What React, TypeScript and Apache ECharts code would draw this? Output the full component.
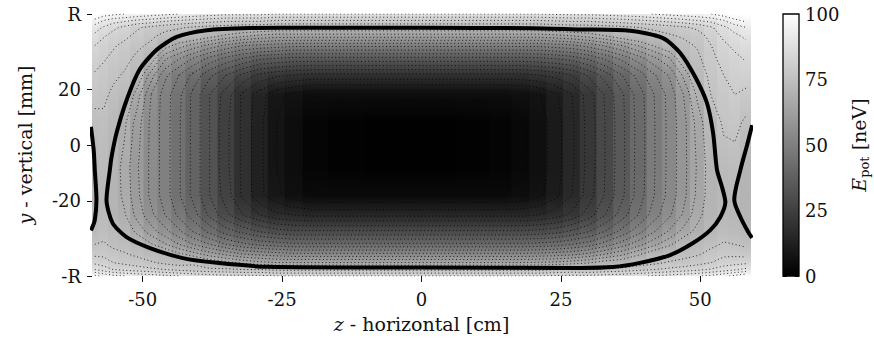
import React, { useEffect, useRef } from "react";
import * as echarts from "echarts";

const FONT = "DejaVu Serif";
const R_MM = 46.8;
const Z_MIN = -59.1;
const Z_MAX = 59.1;
const X_TICKS = [-50, -25, 0, 25, 50];
const Y_TICK_VALUES = [-R_MM, -20, 0, 20, R_MM];
const Y_TICK_LABELS = ["-R", "-20", "0", "20", "R"];
const CBAR_MIN = 0;
const CBAR_MAX = 100;
// thin dotted contour levels (neV); the 72 neV level is the thick line
const DOTTED_LEVELS = [4, 8, 12, 16, 20, 24, 28, 32, 36, 40, 44, 48, 52, 56, 60, 64, 68, 76, 80, 84, 88, 92, 96];

// vertical sample heights (mm), top to bottom
const Y_ROWS = [46.8, 44.5, 42, 39, 35.5, 31, 25, 18, 8, -8, -18, -25, -31, -35.5, -39, -42, -44.5, -46.8];
// column centres (cm)
const Z_COLS = [-58.6, -57, -55.3, -53.3, -51, -48.5, -46, -43.5, -41, -38, -35, -32, -29, -26, -23, -19.5, -14, -6, 3, 10, 14.5, 18, 21, 24, 27, 30, 33, 36, 39, 42, 44.5, 47, 49.5, 52, 54.2, 56.2, 58.2];
// E_pot (neV) read per column, values at Y_ROWS
const E_POT = [
  [100, 95, 90, 87, 84, 82, 79.5, 77.5, 74.5, 72, 71.5, 71.8, 73.5, 76, 79, 83, 88, 97],
  [98, 92, 87.5, 84.5, 82, 80.5, 78.5, 77, 75, 73.5, 72.7, 73, 74.5, 76.5, 79, 82, 86, 95],
  [97, 90, 85, 82.5, 80.5, 79, 77, 75, 73, 70.5, 70.5, 71, 73, 75, 77.5, 80, 84, 93],
  [96, 89, 83, 81, 79, 77.5, 75.5, 73.5, 69, 66.5, 67, 68.5, 71.5, 74, 76.5, 79, 83, 92],
  [95, 87.5, 80.5, 79, 77, 75, 72, 66, 62, 60.5, 61, 62.5, 67, 72, 75, 78, 82, 91],
  [94, 86.5, 79, 77, 75, 71, 62, 56, 55, 55, 55, 57, 62, 68.5, 73.5, 76.5, 81, 90],
  [93, 85, 77.5, 74.5, 70, 61, 53, 50, 50, 50, 50, 52, 57.5, 64.5, 72.5, 75, 80, 89],
  [92, 84, 76.5, 73.5, 66, 56.5, 48, 45, 44.5, 44.5, 44.5, 47, 53, 60, 69, 74, 79, 88],
  [91, 83, 75.5, 73, 62.5, 52, 43, 39, 39, 39, 39, 42, 48, 56, 66, 75, 78, 87],
  [90, 82, 74.5, 70, 58.5, 47, 37, 32, 32, 32, 32, 35, 43, 52, 62, 71.5, 77, 86],
  [89, 81, 74, 67, 55, 43, 32, 26, 25, 25, 26, 29, 38, 48, 59, 69, 77, 85],
  [89, 81, 73, 65, 52, 40, 27, 19, 19, 19, 19, 24, 35, 45, 56, 67, 76, 85],
  [89, 81, 73, 63, 51, 37, 23, 14, 13, 13, 13, 20, 32, 43, 55, 65, 76, 85],
  [88, 80, 72, 62, 50, 36, 21, 9, 8, 8, 9, 17, 30, 42, 54, 64, 75, 84],
  [88, 80, 72, 62, 49, 35, 20, 7, 5, 5, 6, 16, 29, 41, 53, 64, 75, 84],
  [88, 80, 72, 62, 49, 35, 19, 5, 2, 2, 4, 15, 29, 41, 53, 64, 75, 84],
  [88, 80, 72, 62, 49, 35, 19, 5, 0.7, 0.7, 4, 15, 29, 41, 53, 64, 75, 84],
  [88, 80, 72, 62, 49, 35, 19, 5, 0.3, 0.3, 4, 15, 29, 41, 53, 64, 75, 84],
  [88, 80, 72, 62, 49, 35, 19, 5, 0.3, 0.3, 4, 15, 29, 41, 53, 64, 75, 84],
  [88, 80, 72, 62, 49, 35, 19, 5, 0.6, 0.6, 4, 15, 29, 41, 53, 64, 75, 84],
  [88, 80, 72, 62, 49, 35, 19, 5, 1.5, 1.5, 4, 15, 29, 41, 53, 64, 75, 84],
  [88, 80, 72, 62, 49, 35, 19, 6, 3.3, 3.3, 5, 15, 29, 41, 53, 64, 75, 84],
  [88, 80, 72, 62, 49, 35.5, 20, 7.6, 5.7, 5.7, 7, 16, 29.6, 41.4, 53.3, 64.3, 75, 84],
  [88.6, 80.6, 72.7, 62.8, 50, 36.4, 21.5, 11.2, 10, 10, 10.8, 18, 30.7, 42.2, 54, 64.8, 75.7, 84.6],
  [89, 81, 73.5, 64, 51, 38, 24, 16, 15.3, 15.3, 16, 21, 33, 44, 55, 66, 76.5, 85],
  [89, 81, 73.5, 65.6, 53.5, 41, 28.7, 22, 21.5, 21.5, 22, 26, 36, 46, 57, 67.5, 76, 85],
  [89.5, 82, 74, 68, 56.5, 45, 34, 28.6, 28.2, 28.2, 28.5, 32, 40.4, 50, 60, 70, 77, 85.6],
  [90.3, 82.6, 74.8, 71.2, 60, 49.5, 40, 35.4, 35, 35, 35.2, 38, 45.5, 54, 63, 71, 77.7, 86.5],
  [91, 83.6, 76, 73, 64.3, 54.4, 45.8, 42, 41.7, 41.7, 42, 44.3, 50.8, 58.5, 67.4, 73.5, 79, 87.4],
  [92.3, 84.7, 77, 74.3, 68.8, 59.6, 52, 48.6, 48.3, 48.3, 48.5, 50.6, 56.3, 63.4, 71.7, 75, 80, 88.5],
  [93.3, 85.6, 78.2, 75.4, 72.1, 63.8, 56.6, 53.5, 53.3, 53.3, 53.5, 55.4, 60.7, 67.2, 73.1, 76.5, 81, 89.4],
  [94.2, 86.7, 79.3, 76.7, 74.5, 72, 65, 60, 58.7, 58.7, 58.8, 60.6, 65.5, 71.6, 74.5, 77.2, 82, 90.5],
  [95, 88, 80.8, 78.2, 76.5, 75, 72.8, 69, 65.5, 64.5, 65, 66.5, 69.5, 73, 75.5, 78.5, 83, 91.5],
  [96, 89.5, 83.5, 81.5, 80, 79, 77.5, 76.3, 72, 70.5, 70.5, 71, 72.3, 75, 77.5, 80, 84.5, 93],
  [98, 92, 87, 85, 83, 81.5, 80, 78.5, 77, 73.5, 72, 72.5, 74, 76.5, 79, 82, 86, 95],
  [100, 95, 90, 87, 85, 83, 81.5, 80, 77.5, 74, 72.5, 72.2, 73.5, 76, 79, 82.5, 87.5, 97],
  [100, 97, 92, 89, 86.5, 84.5, 82, 79, 75, 71, 70.5, 71, 72.3, 75, 78.5, 83, 89, 99],
];

// thick contour (level ~72 neV): [z cm, y mm]
const THICK_INNER = [
  [-30.8, 41.8], [-20, 41.9], [0, 41.9], [20, 41.7], [28.4, 41.3], [37.4, 40.8], [43.3, 38.2],
  [46.4, 32.9], [49.1, 24.3], [51.2, 15], [52.3, 4.3], [53.0, -8.9], [53.9, -15], [54.5, -20.4],
  [53.6, -25.7], [51.8, -30.4], [48.7, -35], [44.6, -39.3], [39.2, -42.1], [34.3, -43.6],
  [28.4, -43.9], [0, -43.8], [-27.7, -43.5], [-36.7, -42.1], [-42.8, -40.4], [-48.7, -36.8],
  [-52.9, -32.9], [-55.4, -27.9], [-56.5, -19.6], [-55.9, -8.9], [-55.6, -4.3], [-54.7, 4.3],
  [-52.9, 16], [-50.6, 26.8], [-47.5, 34], [-43.9, 38.6], [-38.5, 41], [-30.8, 41.8],
];
const THICK_LEFT = [[-59.3, 6.5], [-58.8, -1.8], [-58.6, -8.9], [-58.3, -19.6], [-58.6, -26.8], [-59.3, -30.5]];
const THICK_RIGHT = [[59.3, 7.1], [58.4, 0], [57.2, -8.9], [56.1, -19.6], [57.2, -25.7], [58.6, -31.1], [59.3, -33.2]];

function gray(v: number): string {
  const c = Math.max(0, Math.min(100, v));
  const g = Math.round((c / 100) * 255);
  return `rgb(${g},${g},${g})`;
}

// marching squares over the read grid -> contour polylines in data coordinates
function contourPaths(level: number): number[][][] {
  const nx = Z_COLS.length;
  const ny = Y_ROWS.length;
  const pts = new Map<string, number[]>();
  const adj = new Map<string, string[]>();
  const val = (i: number, k: number) => E_POT[i][k];
  const edgeKey = (i1: number, k1: number, i2: number, k2: number) => `${i1},${k1}-${i2},${k2}`;
  const crossing = (i1: number, k1: number, i2: number, k2: number): string | null => {
    const a = val(i1, k1);
    const b = val(i2, k2);
    if ((a >= level) === (b >= level)) return null;
    const key = edgeKey(i1, k1, i2, k2);
    if (!pts.has(key)) {
      const t = (level - a) / (b - a);
      pts.set(key, [Z_COLS[i1] + t * (Z_COLS[i2] - Z_COLS[i1]), Y_ROWS[k1] + t * (Y_ROWS[k2] - Y_ROWS[k1])]);
    }
    return key;
  };
  const link = (a: string, b: string) => {
    if (!adj.has(a)) adj.set(a, []);
    if (!adj.has(b)) adj.set(b, []);
    adj.get(a)!.push(b);
    adj.get(b)!.push(a);
  };
  for (let i = 0; i < nx - 1; i++) {
    for (let k = 0; k < ny - 1; k++) {
      const e0 = crossing(i, k, i + 1, k);
      const e1 = crossing(i + 1, k, i + 1, k + 1);
      const e2 = crossing(i, k + 1, i + 1, k + 1);
      const e3 = crossing(i, k, i, k + 1);
      const list = [e0, e1, e2, e3].filter((e) => e !== null) as string[];
      if (list.length === 2) link(list[0], list[1]);
      else if (list.length === 4) {
        const c = (val(i, k) + val(i + 1, k) + val(i + 1, k + 1) + val(i, k + 1)) / 4;
        if ((c >= level) === (val(i, k) >= level)) {
          link(e0!, e1!);
          link(e2!, e3!);
        } else {
          link(e3!, e0!);
          link(e1!, e2!);
        }
      }
    }
  }
  const used = new Set<string>();
  const paths: number[][][] = [];
  const walk = (start: string) => {
    const path: number[][] = [pts.get(start)!];
    used.add(start);
    let cur = start;
    for (;;) {
      const next = (adj.get(cur) || []).find((n) => !used.has(n));
      if (!next) {
        const nb = adj.get(cur) || [];
        if (nb.includes(start) && path.length > 2) path.push(pts.get(start)!);
        break;
      }
      used.add(next);
      path.push(pts.get(next)!);
      cur = next;
    }
    if (path.length > 1) paths.push(path);
  };
  adj.forEach((nb, key) => { if (nb.length === 1 && !used.has(key)) walk(key); });
  adj.forEach((_nb, key) => { if (!used.has(key)) walk(key); });
  return paths;
}

const labelStyle = { fontFamily: FONT, fontSize: 18, color: "#111" };

export default function App() {
  const ref = useRef<HTMLDivElement>(null);
  useEffect(() => {
    if (!ref.current) return;
    const chart = echarts.init(ref.current, undefined, { renderer: "svg" });
    const nC = Z_COLS.length;
    const dotted: any[] = [];
    DOTTED_LEVELS.forEach((L) => contourPaths(L).forEach((p) => dotted.push({ coords: p })));
    const option: any = {
      animation: false,
      backgroundColor: "#fff",
      grid: [
        { left: 92, top: 14, width: 659, height: 262 },
        { left: 783, top: 14, width: 16, height: 262 },
      ],
      xAxis: [
        {
          type: "value", gridIndex: 0, min: Z_MIN, max: Z_MAX,
          axisLine: { show: false, onZero: false },
          splitLine: { show: false },
          axisTick: { show: true, length: 6, customValues: X_TICKS, lineStyle: { color: "#111", width: 1 } },
          axisLabel: { ...labelStyle, margin: 14, customValues: X_TICKS, formatter: (v: number) => String(Math.round(v)) },
          name: "{i|z} - horizontal [cm]",
          nameLocation: "middle",
          nameGap: 38,
          nameTextStyle: { fontFamily: FONT, fontSize: 19, color: "#111", rich: { i: { fontFamily: FONT, fontSize: 19, fontStyle: "italic", color: "#111" } } },
        },
        { type: "value", gridIndex: 1, min: 0, max: 1, show: false },
      ],
      yAxis: [
        {
          type: "value", gridIndex: 0, min: -R_MM, max: R_MM,
          axisLine: { show: false, onZero: false },
          splitLine: { show: false },
          axisTick: { show: true, length: 5, customValues: Y_TICK_VALUES, lineStyle: { color: "#111", width: 1 } },
          axisLabel: {
            ...labelStyle, margin: 11, customValues: Y_TICK_VALUES,
            formatter: (v: number) => {
              let best = 0;
              Y_TICK_VALUES.forEach((t, k) => { if (Math.abs(t - v) < Math.abs(Y_TICK_VALUES[best] - v)) best = k; });
              return Y_TICK_LABELS[best];
            },
          },
          name: "{i|y} - vertical [mm]",
          nameLocation: "middle",
          nameRotate: 90,
          nameGap: 58,
          nameTextStyle: { fontFamily: FONT, fontSize: 19, color: "#111", rich: { i: { fontFamily: FONT, fontSize: 19, fontStyle: "italic", color: "#111" } } },
        },
        {
          type: "value", gridIndex: 1, min: CBAR_MIN, max: CBAR_MAX, interval: 25, position: "right",
          axisLine: { show: false, onZero: false },
          splitLine: { show: false },
          axisTick: { show: true, inside: true, length: 4, lineStyle: { color: "#111" } },
          axisLabel: { ...labelStyle, margin: 6 },
          name: "{e|E}{s|pot} [neV]",
          nameLocation: "middle",
          nameRotate: 90,
          nameGap: 48,
          nameTextStyle: {
            fontFamily: FONT, fontSize: 19, color: "#111", lineHeight: 24,
            rich: {
              e: { fontFamily: FONT, fontSize: 19, fontStyle: "italic", color: "#111", lineHeight: 24 },
              s: { fontFamily: FONT, fontSize: 13, color: "#111", lineHeight: 24, verticalAlign: "bottom" },
            },
          },
        },
        {
          type: "value", gridIndex: 1, min: CBAR_MIN, max: CBAR_MAX, interval: 25, position: "left",
          axisLine: { show: false, onZero: false }, splitLine: { show: false },
          axisTick: { show: true, inside: true, length: 4, lineStyle: { color: "#111" } },
          axisLabel: { show: false },
        },
      ],
      series: [
        {
          type: "custom",
          xAxisIndex: 0, yAxisIndex: 0,
          clip: true,
          encode: { x: 0, y: 1 },
          data: Z_COLS.map((z, i) => [z, 0, i]),
          renderItem: (params: any, api: any) => {
            const i = api.value(2) as number;
            const zc = Z_COLS[i];
            const zl = i === 0 ? Z_MIN : (Z_COLS[i - 1] + zc) / 2;
            const zr = i === nC - 1 ? Z_MAX : (zc + Z_COLS[i + 1]) / 2;
            const pTL = api.coord([zl, Y_ROWS[0]]);
            const pBR = api.coord([zr, Y_ROWS[Y_ROWS.length - 1]]);
            const h = pBR[1] - pTL[1];
            const stops = Y_ROWS.map((y, k) => ({
              offset: Math.max(0, Math.min(1, (api.coord([zc, y])[1] - pTL[1]) / h)),
              color: gray(E_POT[i][k]),
            }));
            return {
              type: "rect",
              shape: { x: pTL[0] - 0.6, y: pTL[1], width: pBR[0] - pTL[0] + 1.2, height: h },
              style: { fill: new echarts.graphic.LinearGradient(0, 0, 0, 1, stops), stroke: null },
            };
          },
          z: 1,
        },
        {
          type: "lines",
          coordinateSystem: "cartesian2d",
          xAxisIndex: 0, yAxisIndex: 0,
          polyline: true,
          silent: true,
          data: dotted,
          lineStyle: { color: "rgba(0,0,0,0.8)", width: 1, type: [1, 2.6], opacity: 1 },
          z: 2,
        },
        {
          type: "line", xAxisIndex: 0, yAxisIndex: 0, data: THICK_INNER, smooth: 0.25,
          symbol: "none", lineStyle: { color: "#000", width: 4 }, z: 3, silent: true,
        },
        {
          type: "line", xAxisIndex: 0, yAxisIndex: 0, data: THICK_LEFT, smooth: 0.3,
          symbol: "none", lineStyle: { color: "#000", width: 4 }, z: 3, silent: true,
        },
        {
          type: "line", xAxisIndex: 0, yAxisIndex: 0, data: THICK_RIGHT, smooth: 0.3,
          symbol: "none", lineStyle: { color: "#000", width: 4 }, z: 3, silent: true,
        },
        {
          type: "custom",
          xAxisIndex: 1, yAxisIndex: 1,
          data: [[0, CBAR_MIN]],
          renderItem: (params: any, api: any) => {
            const pTL = api.coord([0, CBAR_MAX]);
            const pBR = api.coord([1, CBAR_MIN]);
            return {
              type: "rect",
              shape: { x: pTL[0], y: pTL[1], width: pBR[0] - pTL[0], height: pBR[1] - pTL[1] },
              style: {
                fill: new echarts.graphic.LinearGradient(0, 0, 0, 1, [
                  { offset: 0, color: gray(CBAR_MAX) },
                  { offset: 1, color: gray(CBAR_MIN) },
                ]),
                stroke: "#000",
                lineWidth: 1.3,
              },
            };
          },
          z: 1,
        },
      ],
    };
    chart.setOption(option);
    return () => chart.dispose();
  }, []);
  return <div ref={ref} style={{ position: "fixed", left: 0, top: 0, width: 874, height: 339 }} />;
}
